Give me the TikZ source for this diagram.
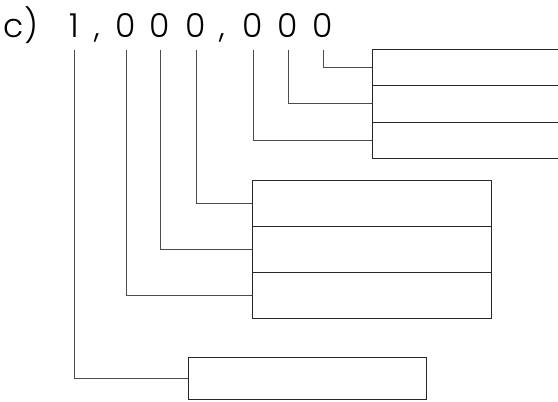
\documentclass[tikz,border=0pt]{standalone}
\usepackage{fontspec}
\setmainfont{Poppins}[UprightFont={* Light}]
\usetikzlibrary{positioning}
\tikzset{
  digit/.style={anchor=base, inner sep=0pt, font=\fontsize{33}{36}\selectfont},
  cell/.style={draw=black!85, line width=0.9pt, inner sep=0pt, outer sep=0pt},
  topcell/.style={cell, minimum width=230pt, minimum height=36.5pt},
  midcell/.style={cell, minimum width=239pt, minimum height=46pt},
  link/.style={draw=black!70, line width=0.8pt}
}
\begin{document}
\begin{tikzpicture}[x=1pt, y=-1pt]
  \useasboundingbox (0,0) rectangle (558,402);
  \clip (0,0) rectangle (558,402);
  % number
  \node[digit] (lbl) at (21,37) {c)};
  \node[digit] (d1) at (74,37) {1};
  \node[digit] (c1) at (97,37) {,};
  \node[digit] (d2) at (126,37) {0};
  \node[digit] (d3) at (160,37) {0};
  \node[digit] (d4) at (196,37) {0};
  \node[digit] (c2) at (222,37) {,};
  \node[digit] (d5) at (253,37) {0};
  \node[digit] (d6) at (288,37) {0};
  \node[digit] (d7) at (323,37) {0};
  % boxes
  \node[topcell] (t1) at (487,67.25) {};
  \node[topcell, below=0pt of t1] (t2) {};
  \node[topcell, below=0pt of t2] (t3) {};
  \node[midcell] (m1) at (371.5,203) {};
  \node[midcell, below=0pt of m1] (m2) {};
  \node[midcell, below=0pt of m2] (m3) {};
  \node[cell, minimum width=238pt, minimum height=42pt] (b1) at (307,378) {};
  % links
  \draw[link] ([yshift=-13pt]d7.south) |- (t1.west);
  \draw[link] ([yshift=-13pt]d6.south) |- (t2.west);
  \draw[link] ([yshift=-13pt]d5.south) |- (t3.west);
  \draw[link] ([yshift=-13pt]d4.south) |- (m1.west);
  \draw[link] ([yshift=-13pt]d3.south) |- (m2.west);
  \draw[link] ([yshift=-13pt]d2.south) |- (m3.west);
  \draw[link] ([yshift=-13pt]d1.south) |- (b1.west);
\end{tikzpicture}
\end{document}
